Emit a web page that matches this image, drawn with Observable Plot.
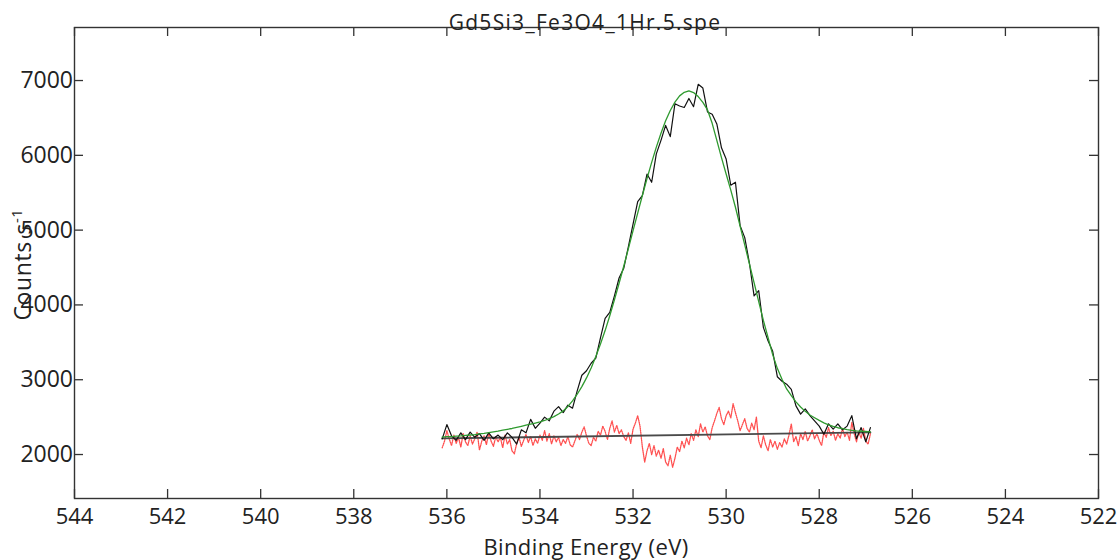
<!DOCTYPE html>
<html><head><meta charset="utf-8">
<script src="https://cdn.jsdelivr.net/npm/d3@7"></script>
<script src="https://cdn.jsdelivr.net/npm/@observablehq/plot@0.6"></script>
<style>
html,body{margin:0;padding:0;background:#fff;}
#chart{width:1120px;height:560px;position:relative;overflow:hidden;}
</style></head><body><div id="chart"></div>
<script>
const title = "Gd5Si3_Fe3O4_1Hr.5.spe";
const xLabel = "Binding Energy (eV)";
const yLabel = "Counts s";
const yLabelSup = "-1";
const xTicks = [544, 542, 540, 538, 536, 534, 532, 530, 528, 526, 524, 522];
const yTicks = [2000, 3000, 4000, 5000, 6000, 7000];

const energyStart = 536.1;
const rawStep = 0.1;
const residualStep = 0.05;

const rawCounts = [2210,2400,2250,2190,2290,2200,2300,2230,2280,2190,
 2290,2210,2260,2200,2290,2230,2140,2330,2290,2470,
 2350,2420,2500,2450,2580,2640,2560,2660,2620,2850,
 3060,3120,3220,3290,3560,3820,3900,4120,4360,4490,
 4780,5080,5380,5460,5750,5640,6020,6200,6400,6250,
 6690,6660,6640,6760,6650,6950,6900,6580,6550,6420,
 6100,5950,5600,5640,5060,4900,4560,4120,4190,3700,
 3520,3380,3040,2980,2940,2870,2650,2540,2610,2520,
 2450,2380,2270,2410,2340,2410,2330,2380,2520,2210,
 2360,2170,2360];

const fitEnvelope = [2233,2239,2240,2246,2250,2256,2261,2267,2277,2283,
 2293,2303,2312,2327,2337,2348,2362,2377,2392,2407,
 2421,2435,2455,2479,2507,2541,2583,2643,2717,2806,
 2908,3024,3158,3311,3478,3657,3856,4069,4290,4517,
 4752,4993,5228,5463,5689,5906,6110,6295,6461,6600,
 6711,6795,6842,6861,6839,6785,6708,6607,6428,6199,
 5970,5750,5535,5306,5054,4802,4549,4297,4045,3793,
 3564,3335,3152,3006,2877,2786,2704,2636,2577,2528,
 2492,2456,2424,2397,2375,2358,2345,2332,2324,2315,
 2311,2308,2304];

const backgroundEnergy = [536.1, 526.9];
const backgroundCounts = [2215, 2295];

const residualCounts = [2090,2180,2320,2210,2120,2260,2150,2230,2100,2280,
 2170,2120,2250,2140,2210,2300,2060,2180,2250,2130,
 2290,2180,2110,2240,2170,2230,2090,2260,2140,2200,
 2050,2010,2150,2230,2110,2190,2270,2160,2240,2120,
 2210,2150,2260,2190,2320,2180,2280,2140,2250,2170,
 2230,2120,2200,2150,2240,2130,2100,2180,2270,2200,
 2300,2370,2250,2150,2120,2230,2180,2310,2260,2380,
 2310,2200,2350,2450,2300,2390,2280,2330,2240,2190,
 2290,2150,2340,2420,2520,2380,2100,1900,2050,2150,
 2000,2120,1980,2060,1950,2080,1900,1850,1990,1830,
 1950,2100,2040,2180,2090,2220,2130,2280,2190,2330,
 2240,2410,2300,2370,2250,2200,2360,2450,2550,2630,
 2480,2400,2520,2580,2490,2680,2560,2450,2320,2400,
 2480,2350,2300,2420,2330,2500,2180,2090,2250,2130,
 2050,2200,2100,2180,2070,2160,2100,2210,2140,2260,
 2410,2170,2240,2120,2280,2200,2310,2180,2250,2330,
 2210,2280,2190,2120,2300,2230,2360,2250,2310,2190,
 2280,2220,2350,2240,2300,2190,2430,2280,2170,2300,
 2220,2350,2180,2140,2280];

const raw = rawCounts.map((c, i) => ({e: +(energyStart - i * rawStep).toFixed(2), c}));
const fit = fitEnvelope.map((c, i) => ({e: +(energyStart - i * rawStep).toFixed(2), c}));
const residual = residualCounts.map((c, i) => ({e: +(energyStart - i * residualStep).toFixed(3), c}));
const background = backgroundEnergy.map((e, i) => ({e, c: backgroundCounts[i]}));

const W = 1120, H = 560, mL = 74, mR = 22, mT = 27, mB = 62;
const frameW = W - mL - mR, frameH = H - mT - mB, tickLen = 9;
const font = '"Open Sans", sans-serif';
const axisColor = "#333";

const plot = Plot.plot({
  width: W, height: H,
  marginLeft: mL, marginRight: mR, marginTop: mT, marginBottom: mB,
  style: {fontFamily: font, background: "#fff", color: "#222", overflow: "visible"},
  x: {domain: [544, 522]},
  y: {domain: [1412, 7709]},
  marks: [
    Plot.line(residual, {x: "e", y: "c", stroke: "#ff3030", strokeOpacity: 0.85, strokeWidth: 1.3, strokeDasharray: "1,1"}),
    Plot.line(background, {x: "e", y: "c", stroke: "#4a4a4a", strokeWidth: 1.8}),
    Plot.line(raw, {x: "e", y: "c", stroke: "#111", strokeWidth: 1.2}),
    Plot.line(fit, {x: "e", y: "c", stroke: "#2f9a2f", strokeWidth: 1.3}),
    Plot.frame({stroke: axisColor, strokeWidth: 1.4}),
    Plot.tickX(xTicks, {x: d => d, insetTop: frameH - tickLen, stroke: axisColor, strokeWidth: 1.3}),
    Plot.tickX(xTicks, {x: d => d, insetBottom: frameH - tickLen, stroke: axisColor, strokeWidth: 1.3}),
    Plot.tickY(yTicks, {y: d => d, insetRight: frameW - tickLen, stroke: axisColor, strokeWidth: 1.3}),
    Plot.tickY(yTicks, {y: d => d, insetLeft: frameW - tickLen, stroke: axisColor, strokeWidth: 1.3}),
    Plot.axisX({ticks: xTicks, tickSize: 0, tickPadding: 10, fontSize: 22, label: null, tickFormat: d => String(d)}),
    Plot.axisY({ticks: yTicks, tickSize: 0, tickPadding: 1.5, fontSize: 23, label: null, tickFormat: d => String(d)})
  ]
});

const svg = d3.select(plot);
const cx = mL + frameW / 2, cy = mT + frameH / 2;
svg.append("text")
  .attr("x", cx - 1).attr("y", 30)
  .attr("text-anchor", "middle")
  .attr("font-family", font).attr("font-size", 21).attr("letter-spacing", 1.3)
  .attr("fill", "#222").text(title);
svg.append("text")
  .attr("x", cx).attr("y", 555)
  .attr("text-anchor", "middle")
  .attr("font-family", font).attr("font-size", 22).attr("letter-spacing", 0.4)
  .attr("fill", "#222").text(xLabel);
const yl = svg.append("text")
  .attr("transform", `translate(31,${cy + 2}) rotate(-90)`)
  .attr("text-anchor", "middle")
  .attr("font-family", font).attr("font-size", 23).attr("letter-spacing", 0.6)
  .attr("fill", "#222");
yl.append("tspan").text(yLabel);
yl.append("tspan").attr("dy", -9).attr("font-size", 15).text(yLabelSup);

document.getElementById("chart").appendChild(plot);
</script></body></html>
